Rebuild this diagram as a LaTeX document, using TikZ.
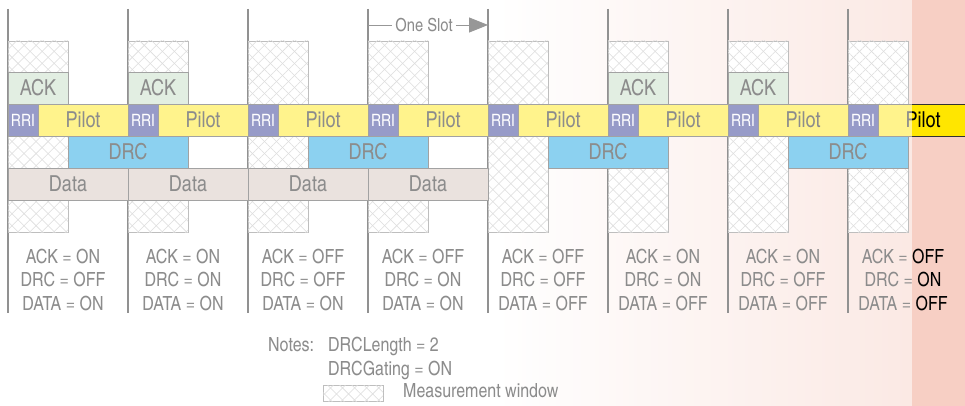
\documentclass[tikz,border=0pt]{standalone}
\usepackage{fontspec}
\newfontfamily\cnfont{texgyreheroscn-regular.otf}
\usepackage{tikz}
\definecolor{pilotyellow}{RGB}{255,230,0}
\definecolor{rriblue}{RGB}{25,35,135}
\definecolor{drcblue}{RGB}{0,155,222}
\definecolor{ackgreen}{RGB}{192,218,192}
\definecolor{datapink}{RGB}{210,192,183}
\definecolor{hatchgray}{RGB}{180,180,180}
\definecolor{boxgray}{RGB}{50,50,50}
\definecolor{stripsalmon}{RGB}{247,207,196}
\usetikzlibrary{positioning}
\usetikzlibrary{patterns.meta}
\usetikzlibrary{arrows.meta}
\tikzset{slotline/.style={black!95,line width=1.8pt}}
\tikzset{field/.style={rectangle,draw=boxgray,line width=.9pt,minimum height=32pt,inner sep=0pt,outer sep=0pt,anchor=north west,font=\cnfont\fontsize{22}{24}\selectfont}}
\tikzset{window/.style={rectangle,draw=boxgray!70,line width=.9pt,inner sep=0pt,outer sep=0pt,anchor=north west,fill=white,
    postaction={pattern={Lines[angle=45,distance=8.5pt,line width=.55pt]},pattern color=hatchgray},
    postaction={pattern={Lines[angle=-45,distance=8.5pt,line width=.55pt]},pattern color=hatchgray}}}
\tikzset{state/.style={inner sep=0pt,anchor=base,font=\cnfont\fontsize{19.5}{22}\selectfont}}
\tikzset{note/.style={state,anchor=base west}}
\tikzset{fade/.style={white,opacity=0.55}}
\tikzset{slotarrow/.style={black!90,line width=.9pt}}

\begin{document}
\begin{tikzpicture}[x=1pt,y=-1pt]
  \clip (0,0) rectangle (965,406);
  % Background
  \fill[white] (0,0) rectangle (965,406);
  \shade[left color=white,right color=stripsalmon] (500,0) rectangle (912,406);
  \fill[stripsalmon] (912,0) rectangle (965,406);

  % Slots and measurement windows
  \foreach \k in {0,...,7}
  {
    \draw[slotline] (8+120*\k,9) coordinate (top\k) -- (8+120*\k,313);
    \node[window,minimum width=60pt,minimum height=191pt] (win\k) at (8+120*\k,41) {};
  }

  % One slot
  \node[state,anchor=center,inner sep=3pt,font=\cnfont\fontsize{18}{20}\selectfont] (oneslot) at (424,25) {One Slot};
  \draw[slotarrow] (top3 |- oneslot) -- (oneslot);
  \draw[slotarrow,-{Triangle[length=19pt,width=15pt]}] (oneslot) -- (top4 |- oneslot);

  % Fields
  \foreach \k in {0,1,5,6}
    \node[field,fill=ackgreen,minimum width=60pt] (ack\k) at (8+120*\k,72) {ACK};
  \foreach \j in {0,...,3}
    \node[field,fill=drcblue,minimum width=120pt] (drc\j) at (68+240*\j,136) {DRC};
  \foreach \k in {0,...,3}
    \node[field,fill=datapink,minimum width=120pt] (data\k) at (8+120*\k,168) {Data};
  \foreach \k in {0,...,7}
  {
    \node[field,fill=rriblue,text=white,minimum width=30pt,font=\cnfont\fontsize{17}{18}\selectfont] (rri\k) at (8+120*\k,104) {RRI};
    \node[field,fill=pilotyellow,minimum width=90pt,right=0pt of rri\k] (pilot\k) {Pilot};
  }

  % States
  \foreach \k/\ak/\dc/\dt in {0/ON/OFF/ON,1/ON/ON/ON,2/OFF/OFF/ON,3/OFF/ON/ON,
                               4/OFF/OFF/OFF,5/ON/ON/OFF,6/ON/OFF/OFF,7/OFF/ON/OFF}
  {
    \node[state] (ackst\k) at (63+120*\k,263) {ACK = \ak};
    \node[state] (drcst\k) at (63+120*\k,286.5) {DRC = \dc};
    \node[state] (datast\k) at (63+120*\k,310) {DATA = \dt};
  }

  % Notes
  \node[note] (notes) at (268,351) {Notes:};
  \node[note] (drclen) at (328,351) {DRCLength = 2};
  \node[note] (drcgate) at (328,375) {DRCGating = ON};
  \node[window,minimum width=60pt,minimum height=16pt] (legend) at (323,385) {};
  \node[note] (legendtxt) at (403,397) {Measurement window};

  % Fade all but the last strip
  \fill[fade] (0,0) rectangle (912,406);
\end{tikzpicture}
\end{document}
